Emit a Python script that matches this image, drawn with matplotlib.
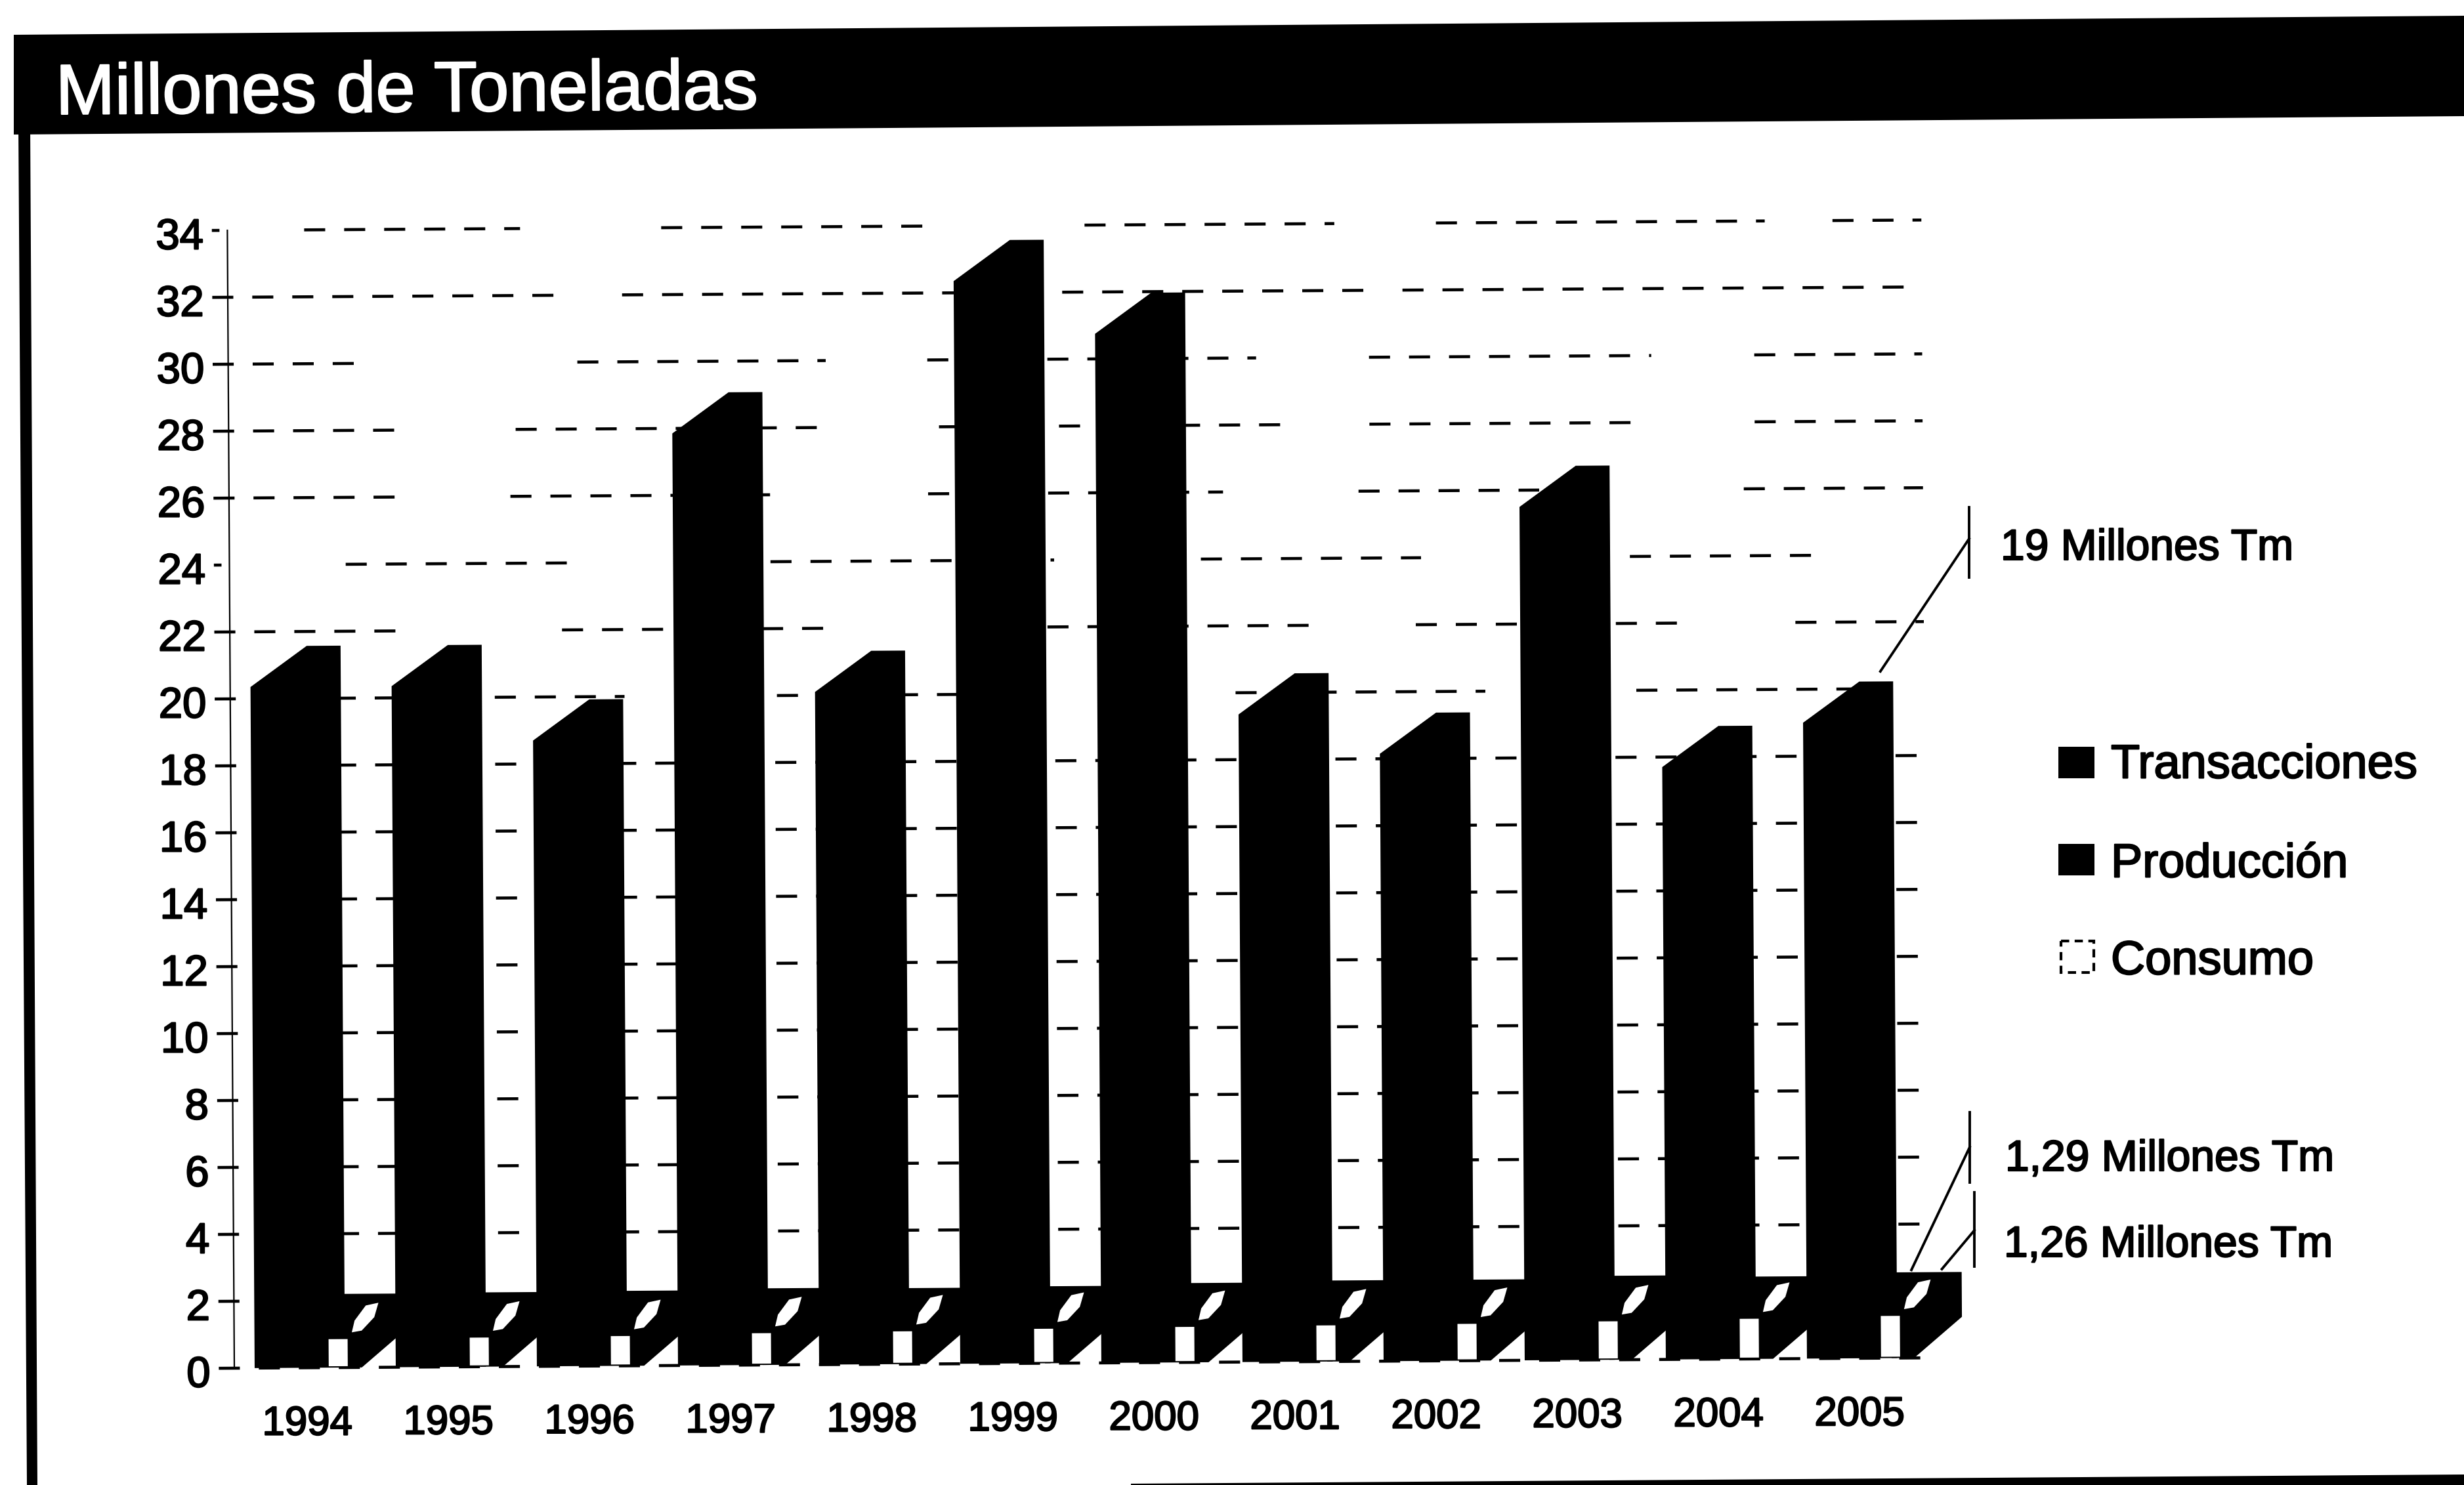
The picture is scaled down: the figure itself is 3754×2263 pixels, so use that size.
"""Bar chart of world tonnage, 1994-2005, drawn in a slightly tilted frame."""

import matplotlib

matplotlib.use("Agg")

import matplotlib.patheffects as pe
import matplotlib.pyplot as plt
from matplotlib.lines import Line2D
from matplotlib.patches import Polygon, Rectangle
from matplotlib.transforms import Affine2D

plt.rcParams["font.family"] = ["Liberation Sans", "DejaVu Sans"]

YEARS = [1994, 1995, 1996, 1997, 1998, 1999, 2000, 2001, 2002, 2003, 2004, 2005]
TRANSACCIONES = [20.35, 20.35, 18.7, 27.85, 20.1, 32.35, 30.75, 19.35, 18.15, 25.5, 17.7, 19.0]
PRODUCCION = [0.93, 0.95, 0.97, 1.02, 1.0, 1.03, 1.1, 1.15, 1.15, 1.24, 1.19, 1.29]
CONSUMO = [0.85, 0.87, 0.89, 0.95, 0.98, 1.03, 1.06, 1.08, 1.1, 1.15, 1.2, 1.26]
Y_TICKS = list(range(0, 35, 2))
LEGEND_LABELS = ["Transacciones", "Producción", "Consumo"]

# stretches of x where a gridline is broken up
GRID_GAPS = {
    34: [(-0.2, 0.40), (1.93, 2.93), (4.89, 5.93), (7.70, 8.42), (10.75, 11.23)],
    32: [(2.17, 2.65), (7.94, 8.18)],
    30: [(0.80, 2.33), (4.09, 4.81), (7.14, 7.94), (9.94, 10.67)],
    28: [(1.12, 1.89), (4.13, 4.89), (7.42, 7.94), (9.90, 10.67)],
    26: [(1.08, 1.85), (3.69, 4.81), (6.90, 7.86), (9.14, 10.59)],
    24: [(-0.2, 0.68), (2.25, 3.69), (5.70, 6.74), (8.30, 9.78), (11.07, 12.0)],
    22: [(1.08, 2.21), (4.09, 5.65), (7.62, 8.26), (10.19, 10.95)],
    20: [(2.65, 3.73), (5.70, 6.98), (8.75, 9.82), (11.6, 12.0)],
}

WIDTH, HEIGHT = 3754, 2263
BAR_W = 0.64
DEPTH_X = 0.40
DEPTH_Y = 1.22
X_MIN, X_MAX = -0.144, 11.86
HEAVY = [pe.withStroke(linewidth=1.6, foreground="black")]


def to_frac(px, py):
    return px / WIDTH, 1 - py / HEIGHT


pixels = Affine2D().scale(1, -1).translate(0, HEIGHT)

fig = plt.figure(figsize=(WIDTH / 100, HEIGHT / 100), dpi=100)
fig.patch.set_facecolor("white")

# plot box: x in years from the first bar, y in millions of tonnes
ax = fig.add_axes([357 / WIDTH, 1 - 2085 / HEIGHT, (388 + X_MAX * 215 - 357) / WIDTH, 1734 / HEIGHT])
ax.set_xlim(X_MIN, X_MAX)
ax.set_ylim(0, 34)
ax.axis("off")
tilt = Affine2D().rotate_deg_around(357, HEIGHT - 2085, 0.35)
tr = ax.transData + tilt


def add_poly(points, color="black", zorder=3):
    ax.add_patch(Polygon(points, closed=True, fc=color, ec="none", transform=tr, zorder=zorder, clip_on=False))


# header band, left rule and the bottom edge of the frame
for corners in (
    [(21, 53), (3754, 24), (3754, 177), (21, 205)],
    [(28, 190), (46, 190), (57, 2263), (41, 2263)],
    [(1723, 2263), (1723, 2261), (3754, 2247), (3754, 2263)],
):
    fig.add_artist(Polygon(corners, closed=True, fc="black", ec="none", transform=pixels))
fig.text(
    *to_frac(85, 174),
    "Millones de Toneladas",
    color="white",
    fontsize=78,
    va="baseline",
    rotation=0.43,
    rotation_mode="anchor",
    path_effects=[pe.withStroke(linewidth=1.6, foreground="white")],
)

# gridlines with their left ticks
for level in Y_TICKS:
    start = X_MIN - 0.11
    for gap_start, gap_end in GRID_GAPS.get(level, []) + [(X_MAX, X_MAX)]:
        if gap_start > start:
            ax.plot([start, gap_start], [level, level], color="black", lw=3.3, ls=(0, (7, 6.3)), transform=tr, zorder=1, clip_on=False)
        start = max(start, gap_end)
    ax.text(X_MIN - 0.17, level - 0.22, str(level), ha="right", va="center", fontsize=47, transform=tr, clip_on=False, path_effects=HEAVY)

ax.plot([X_MIN, X_MIN], [0, 34], color="black", lw=1.6, transform=tr, zorder=2, clip_on=False)

for i, year in enumerate(YEARS):
    value, prod, cons = TRANSACCIONES[i], PRODUCCION[i], CONSUMO[i]
    # low Producción block running back to the next bar
    add_poly(
        [
            (i + 0.6, 0),
            (i + 0.76, 0),
            (i + 1.1, DEPTH_Y),
            (i + 1.1, prod + DEPTH_Y + 0.05),
            (i + 0.6, prod + DEPTH_Y + 0.05),
        ]
    )
    # Transacciones bar with its bevelled top
    add_poly(
        [
            (i, 0),
            (i, value),
            (i + DEPTH_X, value + DEPTH_Y),
            (i + BAR_W, value + DEPTH_Y),
            (i + BAR_W, 0),
        ],
        zorder=4,
    )
    # Consumo: white front face and a thin white sliver on top
    add_poly([(i + 0.525, 0.04), (i + 0.525, cons), (i + 0.66, cons), (i + 0.66, 0.04)], "white", 5)
    add_poly(
        [
            (i + 0.69, cons + 0.2),
            (i + 0.71, cons + 0.55),
            (i + 0.79, cons + 1.0),
            (i + 0.88, cons + 1.08),
            (i + 0.85, cons + 0.65),
            (i + 0.76, cons + 0.25),
        ],
        "white",
        5,
    )
    ax.text(i + 0.37, -1.7, str(year), ha="center", va="center", fontsize=44.5, transform=tr, clip_on=False, path_effects=HEAVY)


def leader(x, y, elbow, bar_top, bar_bottom):
    start = pixels.inverted().transform(tr.transform((x, y)))
    fig.add_artist(Line2D([start[0], elbow[0]], [start[1], elbow[1]], color="black", lw=2.8, transform=pixels))
    fig.add_artist(Line2D([elbow[0], elbow[0]], [bar_top, bar_bottom], color="black", lw=2.8, transform=pixels))


last = len(YEARS) - 1
leader(last + 0.55, TRANSACCIONES[last] + DEPTH_Y + 0.3, (3000, 821), 773, 880)
leader(last + 0.744, PRODUCCION[last] + DEPTH_Y + 0.12, (3001, 1748), 1695, 1802)
leader(last + 0.96, CONSUMO[last] + DEPTH_Y + 0.17, (3008, 1875), 1817, 1930)

for label, x, y in (
    (f"{TRANSACCIONES[last]:.0f} Millones Tm", 3048, 836),
    (f"{PRODUCCION[last]:.2f}".replace(".", ",") + " Millones Tm", 3055, 1767),
    (f"{CONSUMO[last]:.2f}".replace(".", ",") + " Millones Tm", 3053, 1898),
):
    fig.text(*to_frac(x, y), label, fontsize=47.5, ha="left", va="center", path_effects=HEAVY)

# legend keys and labels
key_tops = [1138, 1286, 1434]
label_ys = [1167, 1318, 1466]
for name, top, label_y in zip(LEGEND_LABELS, key_tops, label_ys):
    if name == "Consumo":
        fig.add_artist(Rectangle((3140, top), 50, 48, fc="white", ec="black", lw=3, ls=(0, (3, 2)), transform=pixels))
    else:
        fig.add_artist(Rectangle((3136, top), 55, 48, fc="black", ec="none", transform=pixels))
    fig.text(*to_frac(3216, label_y), name, fontsize=52, ha="left", va="center", path_effects=HEAVY)

fig.savefig("out.png", dpi=100, facecolor="white")
